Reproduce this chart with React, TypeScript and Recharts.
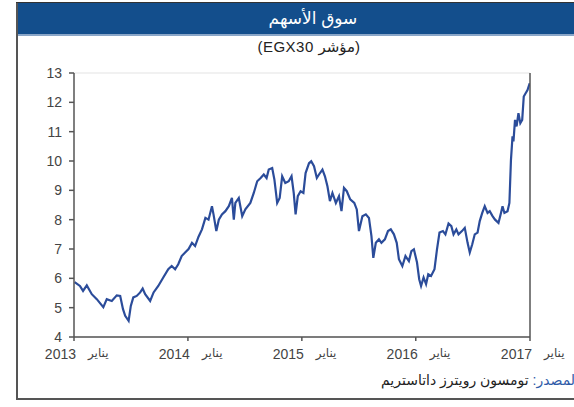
import React from 'react';
import { LineChart, Line, XAxis, YAxis, CartesianGrid } from 'recharts';

// EGX30 index (thousands of points)
const dates = [
  '2013-01-03', '2013-01-20', '2013-01-30', '2013-02-11', '2013-02-27', '2013-03-15', '2013-04-05', '2013-04-16',
  '2013-05-02', '2013-05-18', '2013-05-29', '2013-06-07', '2013-06-14', '2013-06-25', '2013-07-02', '2013-07-10',
  '2013-07-21', '2013-08-01', '2013-08-09', '2013-08-17', '2013-09-02', '2013-09-13', '2013-09-28', '2013-10-14',
  '2013-10-30', '2013-11-10', '2013-11-21', '2013-12-01', '2013-12-12', '2013-12-23',
  '2014-01-03', '2014-01-14', '2014-01-24', '2014-02-04', '2014-02-15', '2014-02-26', '2014-03-08', '2014-03-19',
  '2014-03-24', '2014-04-02', '2014-04-10', '2014-04-20', '2014-05-01', '2014-05-12', '2014-05-22', '2014-05-28',
  '2014-06-02', '2014-06-13', '2014-06-24', '2014-07-04', '2014-07-20', '2014-07-31', '2014-08-11', '2014-08-22',
  '2014-09-01', '2014-09-10', '2014-09-17', '2014-09-28', '2014-10-05', '2014-10-14', '2014-10-22', '2014-10-30',
  '2014-11-09', '2014-11-20', '2014-11-29', '2014-12-06', '2014-12-12', '2014-12-19', '2014-12-28',
  '2015-01-06', '2015-01-13', '2015-01-24', '2015-01-31', '2015-02-09', '2015-02-18', '2015-02-25', '2015-03-08',
  '2015-03-16', '2015-03-24', '2015-04-01', '2015-04-09', '2015-04-20', '2015-04-30', '2015-05-08', '2015-05-16',
  '2015-05-25', '2015-06-05', '2015-06-18', '2015-06-26', '2015-07-03', '2015-07-14', '2015-07-25', '2015-08-04',
  '2015-08-12', '2015-08-18', '2015-08-26', '2015-09-05', '2015-09-13', '2015-09-24', '2015-10-04', '2015-10-13',
  '2015-10-23', '2015-11-01', '2015-11-08', '2015-11-19', '2015-11-29', '2015-12-10', '2015-12-18', '2015-12-26',
  '2016-01-05', '2016-01-12', '2016-01-18', '2016-01-26', '2016-02-03', '2016-02-10', '2016-02-19', '2016-03-01',
  '2016-03-09', '2016-03-17', '2016-03-28', '2016-04-05', '2016-04-15', '2016-04-24', '2016-05-01', '2016-05-10',
  '2016-05-17', '2016-05-28', '2016-06-06', '2016-06-15', '2016-06-22', '2016-06-30', '2016-07-08', '2016-07-17',
  '2016-07-24', '2016-08-01', '2016-08-09', '2016-08-18', '2016-08-25', '2016-09-03', '2016-09-11', '2016-09-22',
  '2016-09-30', '2016-10-05', '2016-10-11', '2016-10-21', '2016-10-27', '2016-11-01', '2016-11-06', '2016-11-09',
  '2016-11-14', '2016-11-19', '2016-11-25', '2016-12-01', '2016-12-07', '2016-12-12', '2016-12-18', '2016-12-24',
  '2016-12-31',
];

const values = [
  5.87, 5.74, 5.57, 5.76, 5.46, 5.29, 5.02, 5.29,
  5.23, 5.42, 5.4, 4.95, 4.72, 4.55, 5.06, 5.35,
  5.4, 5.52, 5.65, 5.46, 5.23, 5.52, 5.74, 6.03,
  6.31, 6.42, 6.31, 6.48, 6.76, 6.88,
  7.0, 7.21, 7.1, 7.42, 7.67, 8.06, 8.0, 8.46,
  8.18, 7.61, 8.0, 8.18, 8.29, 8.46, 8.74, 8.0,
  8.57, 8.74, 8.12, 8.35, 8.57, 8.91, 9.31, 9.42,
  9.54, 9.42, 9.71, 9.76, 9.37, 8.57, 8.74, 9.48,
  9.25, 9.31, 9.48, 8.91, 8.18, 8.8, 8.97,
  8.91, 9.59, 9.93, 9.99, 9.82, 9.42, 9.54, 9.71,
  9.48, 9.14, 8.63, 8.91, 8.57, 8.8, 8.29, 9.08,
  8.97, 8.69, 8.57, 8.35, 7.61, 8.12, 8.18, 8.06,
  7.44, 6.7, 7.21, 7.33, 7.21, 7.33, 7.61, 7.67,
  7.5, 7.21, 6.65, 6.42, 6.76, 6.59, 6.93, 6.99,
  6.54, 5.97, 5.74, 6.03, 5.8, 6.14, 6.08, 6.31,
  6.99, 7.56, 7.61, 7.5, 7.87, 7.78, 7.5, 7.67,
  7.5, 7.61, 7.72, 7.21, 6.88, 7.16, 7.5, 7.56,
  7.95, 8.23, 8.46, 8.23, 8.29, 8.12, 8.0, 7.89,
  8.23, 8.46, 8.23, 8.29, 8.57, 10.04, 10.84, 10.67,
  11.4, 11.18, 11.63, 11.29, 11.4, 12.2, 12.31, 12.42,
  12.65,
];

const yearTicks = [2013, 2014, 2015, 2016, 2017];
const valueTicks = [4, 5, 6, 7, 8, 9, 10, 11, 12, 13];

const monthLabel = 'يناير';
const title = 'سوق الأسهم';
const subtitle = '(EGX30 مؤشر)';
const sourceLabel = 'المصدر:';
const sourceText = ' تومسون رويترز داتاستريم';

const data = dates.map((d, i) => ({ t: Date.parse(d), v: values[i] }));
const tickTimes = yearTicks.map((y) => Date.UTC(y, 0, 1));

const font = '"Liberation Sans", Arial, "DejaVu Sans", sans-serif';

const YearTick = (props: any) => {
  const { x, y, payload } = props;
  const year = new Date(payload.value).getUTCFullYear();
  return (
    <g>
      <text x={x + 2} y={y + 16} textAnchor="end" fontSize={14} fill="#444" fontFamily={font}>
        {year}
      </text>
      <text x={x + 14} y={y + 14} textAnchor="start" fontSize={12} fill="#444" fontFamily={font}>
        {monthLabel}
      </text>
    </g>
  );
};

const App = () => {
  return (
    <div
      style={{
        position: 'absolute',
        left: 0,
        top: 0,
        width: 574,
        height: 407,
        background: '#fff',
        overflow: 'hidden',
        fontFamily: font,
      }}
    >
      {/* frame */}
      <div style={{ position: 'absolute', left: 16, top: 2, width: 2, height: 398, background: '#555' }} />
      <div style={{ position: 'absolute', left: 16, top: 398, width: 560, height: 2, background: '#555' }} />
      <div style={{ position: 'absolute', left: 16, top: 2, width: 560, height: 1, background: '#333' }} />

      {/* header */}
      <div
        style={{
          position: 'absolute',
          left: 18,
          top: 3,
          width: 556,
          height: 31,
          background: '#134e8c',
          color: '#fff',
          textAlign: 'center',
          fontSize: 17,
          lineHeight: '31px',
        }}
      >
        <span style={{ position: 'relative', left: 17 }}>{title}</span>
      </div>
      <div style={{ position: 'absolute', left: 18, top: 34, width: 556, height: 2, background: '#8aa6c8' }} />
      <div
        style={{
          position: 'absolute',
          left: 18,
          top: 37,
          width: 556,
          textAlign: 'center',
          fontSize: 15,
          color: '#222',
          lineHeight: '20px',
          letterSpacing: 0.5,
          direction: 'ltr',
        }}
      >
        <span style={{ position: 'relative', left: 13 }}>{subtitle}</span>
      </div>

      <div style={{ position: 'absolute', left: 0, top: 0 }}>
        <LineChart width={574} height={407} data={data} margin={{ top: 73, right: 4, bottom: 40, left: 34 }}>
          <CartesianGrid vertical={false} stroke="#e4e4e4" strokeWidth={1.2} />
          <XAxis
            dataKey="t"
            type="number"
            domain={[tickTimes[0], tickTimes[tickTimes.length - 1]]}
            ticks={tickTimes}
            height={30}
            tickSize={4}
            tickMargin={2}
            stroke="#555"
            strokeWidth={1.5}
            tick={<YearTick />}
            interval={0}
            allowDataOverflow
          />
          <YAxis
            yAxisId="left"
            orientation="left"
            domain={[4, 13]}
            ticks={valueTicks}
            width={40}
            tickSize={5}
            tickMargin={7}
            stroke="#555"
            strokeWidth={1.5}
            interval={0}
            tick={{ fill: '#444', fontSize: 14, fontFamily: font }}
          />
          <YAxis
            yAxisId="right"
            orientation="right"
            domain={[4, 13]}
            ticks={valueTicks}
            width={40}
            tickSize={5}
            tickMargin={9}
            stroke="#555"
            strokeWidth={1.5}
            interval={0}
            tick={{ fill: '#444', fontSize: 14, fontFamily: font }}
          />
          <Line
            yAxisId="left"
            dataKey="v"
            type="linear"
            stroke="#2b4c9a"
            strokeWidth={2.2}
            dot={false}
            isAnimationActive={false}
          />
        </LineChart>
      </div>

      {/* source */}
      <div
        style={{
          position: 'absolute',
          right: -5,
          top: 372,
          direction: 'rtl',
          fontSize: 14,
          color: '#222',
          whiteSpace: 'nowrap',
        }}
      >
        <span style={{ color: '#2f5ba8' }}>{sourceLabel}</span>
        {sourceText}
      </div>
    </div>
  );
};

export default App;
